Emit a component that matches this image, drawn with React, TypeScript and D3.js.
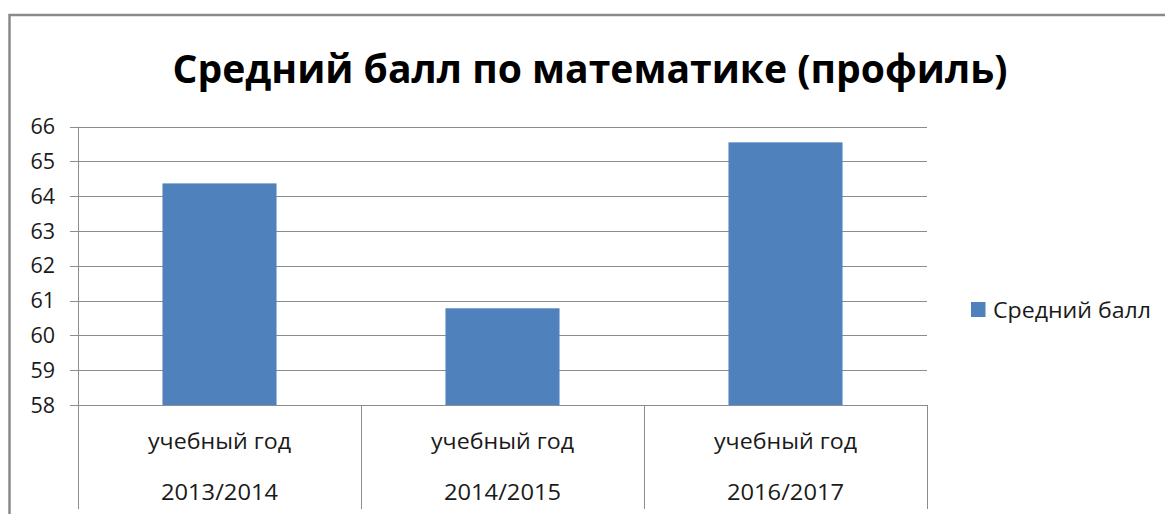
import React from "react";
import * as d3 from "d3";

const categoryYears: string[] = ["2013/2014", "2014/2015", "2016/2017"];
const categoryPrefix = "учебный год";
const scores: number[] = [64.37, 60.78, 65.55];
const yTicks: number[] = [58, 59, 60, 61, 62, 63, 64, 65, 66];
const seriesName = "Средний балл";
const chartTitle = "Средний балл по математике (профиль)";

const W = 1165;
const H = 514;
const plotLeft = 78;
const plotRight = 927;
const plotTop = 126.7;
const plotBottom = 405;
const barColor = "#4f81bd";
const gridColor = "#8c8c8c";
const textColor = "#1a1a1a";
const font = "'Open Sans', 'Noto Sans', sans-serif";

export default function App() {
  const y = d3.scaleLinear().domain([58, 66]).range([plotBottom, plotTop]);
  const x = d3
    .scaleBand<string>()
    .domain(categoryYears)
    .range([plotLeft, plotRight])
    .paddingInner(0)
    .paddingOuter(0);
  const bw = x.bandwidth();
  const barW = bw * 0.403;

  return (
    <svg
      width={W}
      height={H}
      style={{ position: "absolute", left: 0, top: 0, background: "#fff" }}
    >
      <rect x={0} y={0} width={W} height={H} fill="#fff" />
      {/* outer frame */}
      <rect
        x={9.5}
        y={15}
        width={1300}
        height={700}
        fill="#fff"
        stroke="#8a8a8a"
        strokeWidth={2.5}
      />
      {/* title */}
      <text
        x={590}
        y={83}
        textAnchor="middle"
        fontFamily={font}
        fontWeight={700}
        fontSize={38.5}
        fill="#000"
        textLength={835}
        lengthAdjust="spacingAndGlyphs"
      >
        {chartTitle}
      </text>

      {/* gridlines + y ticks */}
      {yTicks.map((t) => (
        <g key={t}>
          <line
            x1={plotLeft - 8}
            x2={plotRight}
            y1={Math.round(y(t)) + 0.5}
            y2={Math.round(y(t)) + 0.5}
            stroke={gridColor}
            strokeWidth={1}
          />
          <text
            x={55}
            y={y(t) + 7.5}
            textAnchor="end"
            fontFamily={font}
            fontSize={21.5}
            fill={textColor}
          >
            {t}
          </text>
        </g>
      ))}

      {/* y axis */}
      <line
        x1={plotLeft + 0.5}
        x2={plotLeft + 0.5}
        y1={plotTop}
        y2={509}
        stroke={gridColor}
        strokeWidth={1}
      />
      {/* category dividers */}
      {categoryYears.map((c) => (
        <line
          key={"d" + c}
          x1={Math.round((x(c) as number) + bw) + 0.5}
          x2={Math.round((x(c) as number) + bw) + 0.5}
          y1={plotBottom}
          y2={509}
          stroke={gridColor}
          strokeWidth={1}
        />
      ))}

      {/* bars */}
      {categoryYears.map((c, i) => (
        <rect
          key={"b" + c}
          x={(x(c) as number) + (bw - barW) / 2}
          y={y(scores[i])}
          width={barW}
          height={plotBottom - y(scores[i])}
          fill={barColor}
        />
      ))}

      {/* category labels */}
      {categoryYears.map((c) => {
        const cx = (x(c) as number) + bw / 2;
        return (
          <g key={"l" + c}>
            <text
              x={cx}
              y={449}
              textAnchor="middle"
              fontFamily={font}
              fontSize={22.5}
              fill={textColor}
              textLength={143}
              lengthAdjust="spacingAndGlyphs"
            >
              {categoryPrefix}
            </text>
            <text
              x={cx}
              y={500}
              textAnchor="middle"
              fontFamily={font}
              fontSize={22.5}
              fill={textColor}
              textLength={117}
              lengthAdjust="spacingAndGlyphs"
            >
              {c}
            </text>
          </g>
        );
      })}

      {/* legend */}
      <rect x={971} y={302} width={14.5} height={15} fill={barColor} />
      <text
        x={993}
        y={318}
        fontFamily={font}
        fontSize={22}
        fill={textColor}
        textLength={158}
        lengthAdjust="spacingAndGlyphs"
      >
        {seriesName}
      </text>
    </svg>
  );
}
